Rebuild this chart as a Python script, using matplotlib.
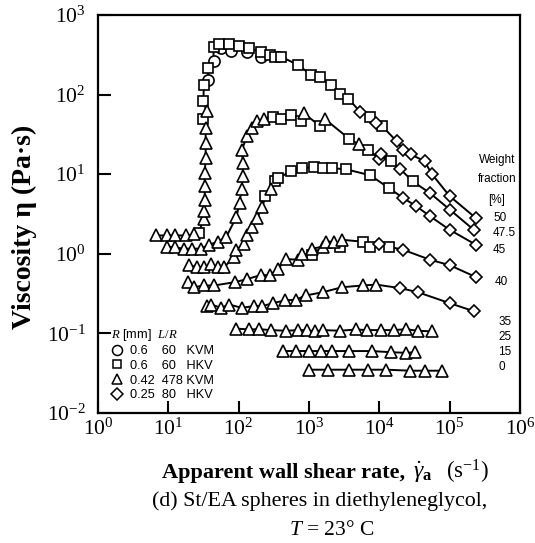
import numpy as np
import matplotlib
matplotlib.use("Agg")
import matplotlib.pyplot as plt
from matplotlib.lines import Line2D
from matplotlib.ticker import LogLocator, NullLocator

plt.rcParams['font.family'] = ['Liberation Serif', 'DejaVu Serif']
plt.rcParams['mathtext.fontset'] = 'custom'
plt.rcParams['mathtext.rm'] = 'Liberation Serif'
plt.rcParams['mathtext.it'] = 'Liberation Serif:italic'
plt.rcParams['mathtext.bf'] = 'Liberation Serif:bold'

# apparent wall shear rate [1/s], viscosity [Pa s], capillary marker per point
# o: R=0.6 L/R=60 KVM, s: R=0.6 L/R=60 HKV, ^: R=0.42 L/R=478 KVM, D: R=0.25 L/R=80 HKV
shear_50 = [6.8, 9.7, 12.6, 17.6, 23, 27, 32, 32, 33, 33, 33, 34, 34, 34, 31.6, 35, 31.6, 32,
            37, 37, 44, 44, 53, 56, 74, 79, 100, 131, 141, 205, 205, 275, 325, 400, 710, 1060,
            1450, 2040, 2760, 3630, 5400, 7400, 9100, 11000, 17600, 22000, 28000, 44000, 56000,
            100000, 237000]
eta_50 = [1.7, 1.7, 1.7, 1.7, 1.75, 1.85, 2.7, 3.4, 4.8, 7.1, 10.3, 15.8, 24.5, 37.6, 49, 62, 82, 132,
          151, 218, 265, 400, 435, 380, 435, 355, 405, 345, 380, 345, 300, 310, 300, 300, 234, 178,
          165, 132, 103, 89, 60, 53, 44, 40, 26, 20.4, 17.8, 14.5, 10, 5.3, 2.8]
mk_50 = "^^^^^s^^^^^^^^s^ssosossososossosssssssssDsDsDDDDDDD"

shear_475 = [9.7, 12.6, 16.5, 22, 29, 38, 51, 67, 93, 103, 110, 115, 115, 112, 131, 155, 183, 233,
             307, 400, 560, 760, 850, 1450, 1700, 3700, 5100, 6900, 10000, 10700, 14500, 20000,
             30000, 53000, 100000, 220000]
eta_475 = [1.23, 1.2, 1.16, 1.16, 1.16, 1.3, 1.42, 1.64, 2.9, 4.3, 6.5, 9.4, 13.8, 20.4, 30, 37.6, 46, 50,
           53, 49, 55, 46, 58, 40, 49, 28, 23.7, 20.4, 15.4, 18, 14.5, 11.5, 8.1, 5.75, 3.6, 2.0]
mk_475 = "^^^^^^^^^^^^^^^^^^ssss^s^s^sDDsDsDDD"

shear_45 = [19.5, 26, 32, 41, 51, 63, 85, 93, 118, 131, 155, 183, 218, 240, 288, 325, 360, 560, 790,
            1170, 1590, 2150, 3400, 7400, 13700, 22000, 33000, 53000, 100000, 236000]
eta_45 = [0.72, 0.68, 0.68, 0.74, 0.68, 0.68, 0.92, 1.12, 1.34, 1.74, 2.2, 2.8, 3.9, 5.25, 6.6, 8.1, 8.9,
          10.9, 11.9, 12.3, 11.9, 11.9, 11.5, 9.7, 6.7, 5.0, 4.0, 2.95, 2.0, 1.3]
mk_45 = "^^^^^^^^^^^^^s^ssssssssssDDDDD"

shear_40 = [19, 23, 32, 45, 88, 131, 205, 275, 360, 475, 710, 790, 1100, 1100, 1590, 1740, 2300, 2760,
            2950, 5800, 7400, 10000, 13700, 22000, 53000, 100000, 236000]
eta_40 = [0.44, 0.38, 0.40, 0.40, 0.44, 0.48, 0.54, 0.54, 0.64, 0.86, 0.84, 1.0, 0.97, 1.16, 1.23, 1.42,
          1.42, 1.23, 1.5, 1.42, 1.23, 1.34, 1.23, 1.12, 0.84, 0.72, 0.51]
mk_40 = "^^^^^^^^^^^^s^^^^s^ssDsDDDD"

shear_35 = [35, 41, 56, 74, 110, 166, 218, 307, 460, 650, 910, 1590, 2950, 5800, 9100, 20000, 35000,
            100000, 220000]
eta_35 = [0.22, 0.23, 0.21, 0.23, 0.21, 0.22, 0.22, 0.24, 0.26, 0.265, 0.30, 0.33, 0.38, 0.40, 0.41,
          0.37, 0.33, 0.24, 0.19]
mk_35 = "^^^^^^^^^^^^^^^DDDD"

shear_25 = [93, 141, 195, 288, 475, 710, 930, 1230, 1590, 2760, 4700, 6700, 10700, 16000, 24000,
            35000, 56000]
eta_25 = [0.115, 0.112, 0.113, 0.11, 0.108, 0.11, 0.11, 0.106, 0.11, 0.108, 0.112, 0.11, 0.11, 0.11,
          0.113, 0.108, 0.106]
mk_25 = "^" * len(shear_25)

shear_15 = [430, 660, 1000, 1500, 2150, 3700, 7800, 14900, 24000, 32000]
eta_15 = [0.06, 0.06, 0.06, 0.06, 0.06, 0.06, 0.06, 0.058, 0.057, 0.058]
mk_15 = "^" * len(shear_15)

shear_0 = [1000, 1850, 3700, 6900, 12500, 27500, 45000, 78000]
eta_0 = [0.035, 0.035, 0.035, 0.035, 0.035, 0.034, 0.034, 0.034]
mk_0 = "^" * len(shear_0)

# weight fraction labels [%] next to the curve ends
frac_labels = ["50", "47.5", "45", "40", "35", "25", "15", "0"]
frac_pos = [(0.936, 0.490), (0.936, 0.452), (0.936, 0.410), (0.940, 0.329),
            (0.948, 0.229), (0.948, 0.191), (0.948, 0.153), (0.948, 0.116)]

# capillaries used
cap_marker = ["o", "s", "^", "D"]
cap_radius = ["0.6", "0.6", "0.42", "0.25"]
cap_lr = ["60", "60", "478", "80"]
cap_rheo = ["KVM", "HKV", "KVM", "HKV"]

curves = [(shear_50, eta_50, mk_50), (shear_475, eta_475, mk_475), (shear_45, eta_45, mk_45),
          (shear_40, eta_40, mk_40), (shear_35, eta_35, mk_35), (shear_25, eta_25, mk_25),
          (shear_15, eta_15, mk_15), (shear_0, eta_0, mk_0)]

msize = {"o": 8.0, "s": 7.2, "^": 8.2, "D": 6.6}

fig = plt.figure(figsize=(5.35, 5.43), dpi=100)
ax = fig.add_axes([0.183, 0.2394, 0.789, 0.7330])
ax.set_xscale('log')
ax.set_yscale('log')
ax.set_xlim(1, 1e6)
ax.set_ylim(1e-2, 1e3)

for x, y, mk in curves:
    x = np.asarray(x, float)
    y = np.asarray(y, float)
    mk = np.array(list(mk))
    ax.plot(x, y, '-', color='k', lw=1.4, zorder=2)
    for m in "osD^":
        sel = mk == m
        if sel.any():
            ax.plot(x[sel], y[sel], ls='none', marker=m, ms=msize[m], mfc='white',
                    mec='k', mew=1.2, zorder=3)

ax.xaxis.set_major_locator(LogLocator(base=10, numticks=10))
ax.yaxis.set_major_locator(LogLocator(base=10, numticks=10))
ax.xaxis.set_minor_locator(NullLocator())
ax.yaxis.set_minor_locator(NullLocator())
ax.tick_params(direction='in', length=9, width=1.5, labelsize=15.5)
ax.tick_params(axis='y', pad=9)
ax.tick_params(axis='x', pad=4)
for s in ax.spines.values():
    s.set_linewidth(1.6)

# capillary legend
handles = [Line2D([], [], ls='none', marker=m, ms=msize[m] - 0.8, mfc='white', mec='k', mew=1.1)
           for m in cap_marker]
labels = []
for r, lr, rh in zip(cap_radius, cap_lr, cap_rheo):
    labels.append(r + "\u2007" * (4 - len(r)) + "  " + lr + "\u2007" * (3 - len(lr)) + " " + rh)
leg = ax.legend(handles, labels, title=r"$R$ [mm]  $L/R$", loc='lower left',
                bbox_to_anchor=(0.03, 0.03), frameon=False, borderpad=0, borderaxespad=0,
                handlelength=1.0, handletextpad=0.5, labelspacing=0.2,
                prop={'family': 'Liberation Sans', 'size': 9.2},
                title_fontproperties={'family': 'Liberation Sans', 'size': 9.2},
                alignment='left')

# weight fraction annotations
for txt, y in zip(["Weight", "fraction", "[%]"], [0.636, 0.588, 0.535]):
    ax.text(0.945, y, txt, transform=ax.transAxes, ha='center', va='center',
            family='Liberation Sans', fontsize=8.5)
for txt, (xf, yf) in zip(frac_labels, frac_pos):
    ax.text(xf, yf, txt, transform=ax.transAxes, ha='left', va='center',
            family='Liberation Sans', fontsize=8.5)

fig.text(0.045, 0.582, "Viscosity η (Pa·s)", rotation=90, ha='center', va='center',
         fontsize=20, fontweight='bold')

# x axis title built from pieces so the rate symbol sits after the bold words
renderer = fig.canvas.get_renderer()
t1 = fig.text(0.303, 0.119, "Apparent wall shear rate,", fontsize=16, fontweight='bold',
              va='baseline')
x1 = t1.get_window_extent(renderer).x1 / fig.bbox.width
t2 = fig.text(x1 + 0.014, 0.119, r"$\dot{\gamma}_{\mathbf{a}}$", fontsize=17, va='baseline')
x2 = t2.get_window_extent(renderer).x1 / fig.bbox.width
fig.text(x2 + 0.026, 0.119, r"(s$^{\mathregular{-1}}$)", fontsize=16.5, va='baseline')

fig.text(0.597, 0.068, "(d) St/EA spheres in diethyleneglycol,", fontsize=15.8, ha='center',
         va='baseline')
fig.text(0.620, 0.014, r"$T$ = 23° C", fontsize=15.5, ha='center', va='baseline')

fig.savefig("out.png", dpi=100)
